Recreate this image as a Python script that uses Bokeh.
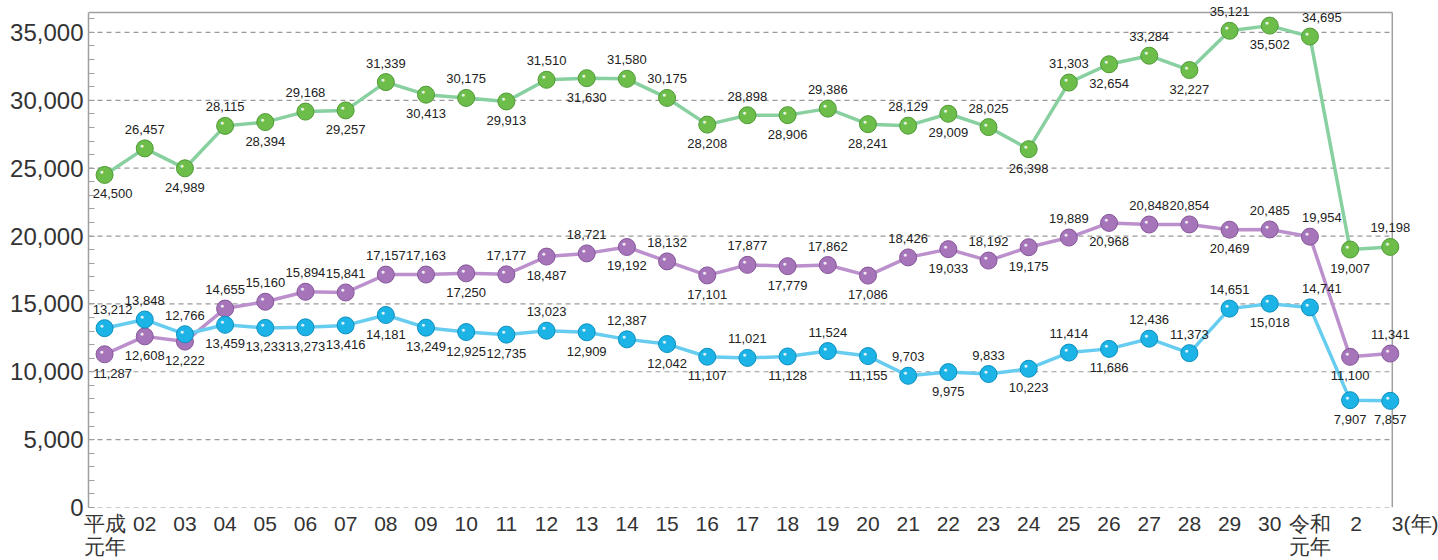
from bokeh.plotting import figure
from bokeh.models import Range1d, ColumnDataSource, LabelSet, FixedTicker, NumeralTickFormatter
from bokeh.core.properties import value
from bokeh.embed import file_html
from bokeh.resources import INLINE

years = ["平成\n元年", "02", "03", "04", "05", "06", "07", "08", "09", "10",
         "11", "12", "13", "14", "15", "16", "17", "18", "19", "20",
         "21", "22", "23", "24", "25", "26", "27", "28", "29", "30",
         "令和\n元年", "2", "3(年)"]

blue = [13212, 13848, 12766, 13459, 13233, 13273, 13416, 14181, 13249, 12925,
        12735, 13023, 12909, 12387, 12042, 11107, 11021, 11128, 11524, 11155,
        9703, 9975, 9833, 10223, 11414, 11686, 12436, 11373, 14651, 15018,
        14741, 7907, 7857]

purple = [11287, 12608, 12222, 14655, 15160, 15894, 15841, 17157, 17163, 17250,
          17177, 18487, 18721, 19192, 18132, 17101, 17877, 17779, 17862, 17086,
          18426, 19033, 18192, 19175, 19889, 20968, 20848, 20854, 20469, 20485,
          19954, 11100, 11341]

green = [24500, 26457, 24989, 28115, 28394, 29168, 29257, 31339, 30413, 30175,
         29913, 31510, 31630, 31580, 30175, 28208, 28898, 28906, 29386, 28241,
         28129, 29009, 28025, 26398, 31303, 32654, 33284, 32227, 35121, 35502,
         34695, 19007, 19198]

y_ticks = [0, 5000, 10000, 15000, 20000, 25000, 30000, 35000]

# label placement: A = above the point, B = below
green_pos = "BABABABABABAB" + "AA" + "BABABABABABABABABA"
purple_pos = "BBB" + "AAAAAA" + "BABABABABABABABA" + "BA" + "AB" + "AA" + "BA"
blue_pos = "AAA" + "BBBBBBBB" + "ABAB" + "B" + "ABABABABAB" + "AAA" + "B" + "A" + "BB"

LABEL_FONT = "'Liberation Sans Narrow', 'Liberation Sans', sans-serif"
AXIS_FONT = "Liberation Sans"

# visible box (the frame itself is extended so that labels are not clipped)
X0, X1 = -0.4, 32.05
Y1 = 36470

p = figure(width=1438, height=560, output_backend="svg", toolbar_location=None,
           x_range=Range1d(X0, 33.2), y_range=Range1d(0, 37352),
           min_border_left=88, min_border_right=0, min_border_top=0, min_border_bottom=52)
p.outline_line_color = None
p.background_fill_color = "white"
p.border_fill_color = "white"

# y axis
p.yaxis.ticker = FixedTicker(ticks=y_ticks, minor_ticks=list(range(0, 36001, 1000)))
p.yaxis.bounds = (0, Y1)
p.yaxis.formatter = NumeralTickFormatter(format="0,0")
p.yaxis.major_label_text_font_size = "24px"
p.yaxis.major_label_text_font = AXIS_FONT
p.yaxis.major_label_text_color = "#333333"
p.yaxis.axis_line_color = "#a0a0a0"
p.yaxis.axis_line_width = 1.5
p.yaxis.major_tick_in = 6
p.yaxis.major_tick_out = 0
p.yaxis.minor_tick_in = 6
p.yaxis.minor_tick_out = 0
p.yaxis.major_tick_line_color = "#a0a0a0"
p.yaxis.minor_tick_line_color = "#a0a0a0"
p.yaxis.major_label_standoff = 5

# x axis (the last two labels sit a little to the right of their points)
idx = list(range(len(years)))
tick_pos = idx[:-2] + [31.15, 32.75]
p.xaxis.ticker = FixedTicker(ticks=tick_pos)
p.xaxis.major_label_overrides = {t: years[i] for i, t in enumerate(tick_pos)}
p.xaxis.major_label_text_font_size = "21px"
p.xaxis.major_label_text_line_height = 1.0
p.xaxis.major_label_text_font = AXIS_FONT
p.xaxis.major_label_text_color = "#333333"
p.xaxis.axis_line_color = None
p.xaxis.major_tick_line_color = None
p.xaxis.minor_tick_line_color = None
p.xaxis.major_tick_in = 0
p.xaxis.major_tick_out = 0
p.xaxis.major_label_standoff = 4

p.xgrid.grid_line_color = None
p.ygrid.grid_line_color = None

# dashed gridlines and box edges limited to the visible box
p.segment(x0=[X0] * len(y_ticks), x1=[X1] * len(y_ticks), y0=y_ticks, y1=y_ticks,
          line_color="#9a9a9a", line_dash="5 4", line_width=1.2)
p.segment(x0=[X0], x1=[X1], y0=[Y1], y1=[Y1], line_color="#a0a0a0", line_width=1.5)
p.segment(x0=[X1], x1=[X1], y0=[0], y1=[Y1], line_color="#a0a0a0", line_width=1.5)

series = [
    (green, green_pos, "#88d0a0", "#6cbd4a", "#4f9a35"),
    (purple, purple_pos, "#bb90cc", "#a674b9", "#86569a"),
    (blue, blue_pos, "#66cdf0", "#1cb3e6", "#0c8fbf"),
]

x_shift = {0: 8, 30: 12}

for vals, pos, lcol, mcol, ecol in series:
    p.line(idx, vals, line_color=lcol, line_width=3.5)

for vals, pos, lcol, mcol, ecol in series:
    src = ColumnDataSource(dict(
        x=idx, y=vals,
        t=[f"{v:,}" for v in vals],
        yo=[19 if c == "A" else -19 for c in pos],
        xo=[x_shift.get(i, 0) for i in idx],
    ))
    p.scatter("x", "y", source=src, size=17, fill_color=mcol, line_color=ecol, line_width=1)
    p.text("x", "y", text=value("●"), source=src, text_color="white", text_alpha=0.85,
           text_font_size="7px", x_offset=-3, y_offset=-3, text_align="center",
           text_baseline="middle")
    p.add_layout(LabelSet(x="x", y="y", text="t", source=src, y_offset="yo", x_offset="xo",
                          text_align="center", text_baseline="middle",
                          text_font=value(LABEL_FONT), text_font_size="13px",
                          text_color="#222222"))

open("out.html", "w").write(file_html(p, INLINE))
